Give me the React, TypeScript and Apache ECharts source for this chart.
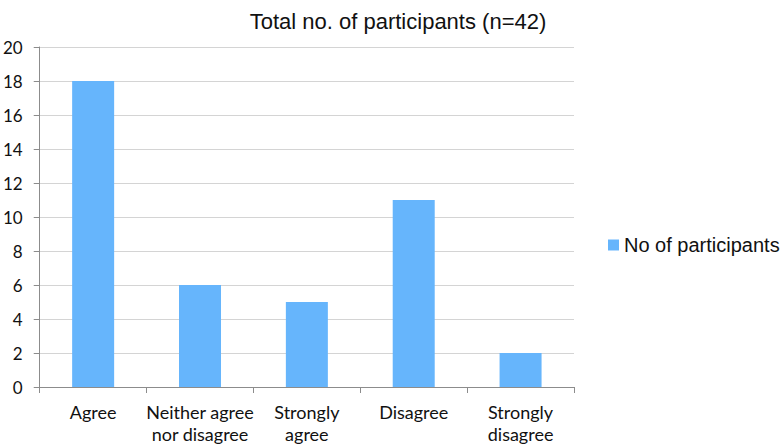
import React, { useEffect, useRef } from "react";
import * as echarts from "echarts";

const categories = ["Agree", "Neither agree\nnor disagree", "Strongly\nagree", "Disagree", "Strongly\ndisagree"];
const participants = [18, 6, 5, 11, 2];
const seriesName = "No of participants";
const titleText = "Total no. of participants (n=42)";

export default function App() {
  const ref = useRef<HTMLDivElement>(null);
  useEffect(() => {
    if (!ref.current) return;
    const chart = echarts.init(ref.current, null, { renderer: "svg" });
    chart.setOption({
      animation: false,
      backgroundColor: "#ffffff",
      title: {
        text: titleText,
        left: 393,
        textAlign: "center",
        top: 5,
        textStyle: { fontFamily: "Liberation Sans", fontSize: 22, fontWeight: "normal", color: "#111" },
      },
      legend: {
        data: [seriesName],
        left: 603,
        top: 230,
        icon: "rect",
        itemWidth: 11,
        itemHeight: 11,
        itemGap: 6,
        textStyle: { fontFamily: "Liberation Sans", fontSize: 20, color: "#111" },
      },
      grid: { left: 36, right: 206, top: 47, bottom: 59 },
      xAxis: {
        type: "category",
        data: categories,
        axisLine: { lineStyle: { color: "#8c8c8c" } },
        axisTick: { show: true, length: 6, lineStyle: { color: "#8c8c8c" } },
        axisLabel: { interval: 0, fontFamily: "Lato", fontSize: 18, color: "#111", lineHeight: 22, margin: 14 },
      },
      yAxis: {
        type: "value",
        min: 0,
        max: 20,
        interval: 2,
        axisLine: { show: true, lineStyle: { color: "#8c8c8c" } },
        axisTick: { show: true, length: 6, lineStyle: { color: "#8c8c8c" } },
        splitLine: { lineStyle: { color: "#d4d4d4" } },
        axisLabel: { fontFamily: "Lato", fontSize: 17, color: "#111", margin: 17 },
      },
      series: [
        {
          name: seriesName,
          type: "bar",
          data: participants,
          barWidth: 42,
          itemStyle: { color: "#66b5fc" },
        },
      ],
    });
    return () => chart.dispose();
  }, []);
  return <div ref={ref} style={{ width: 780, height: 446, position: "absolute", left: 0, top: 0 }} />;
}
